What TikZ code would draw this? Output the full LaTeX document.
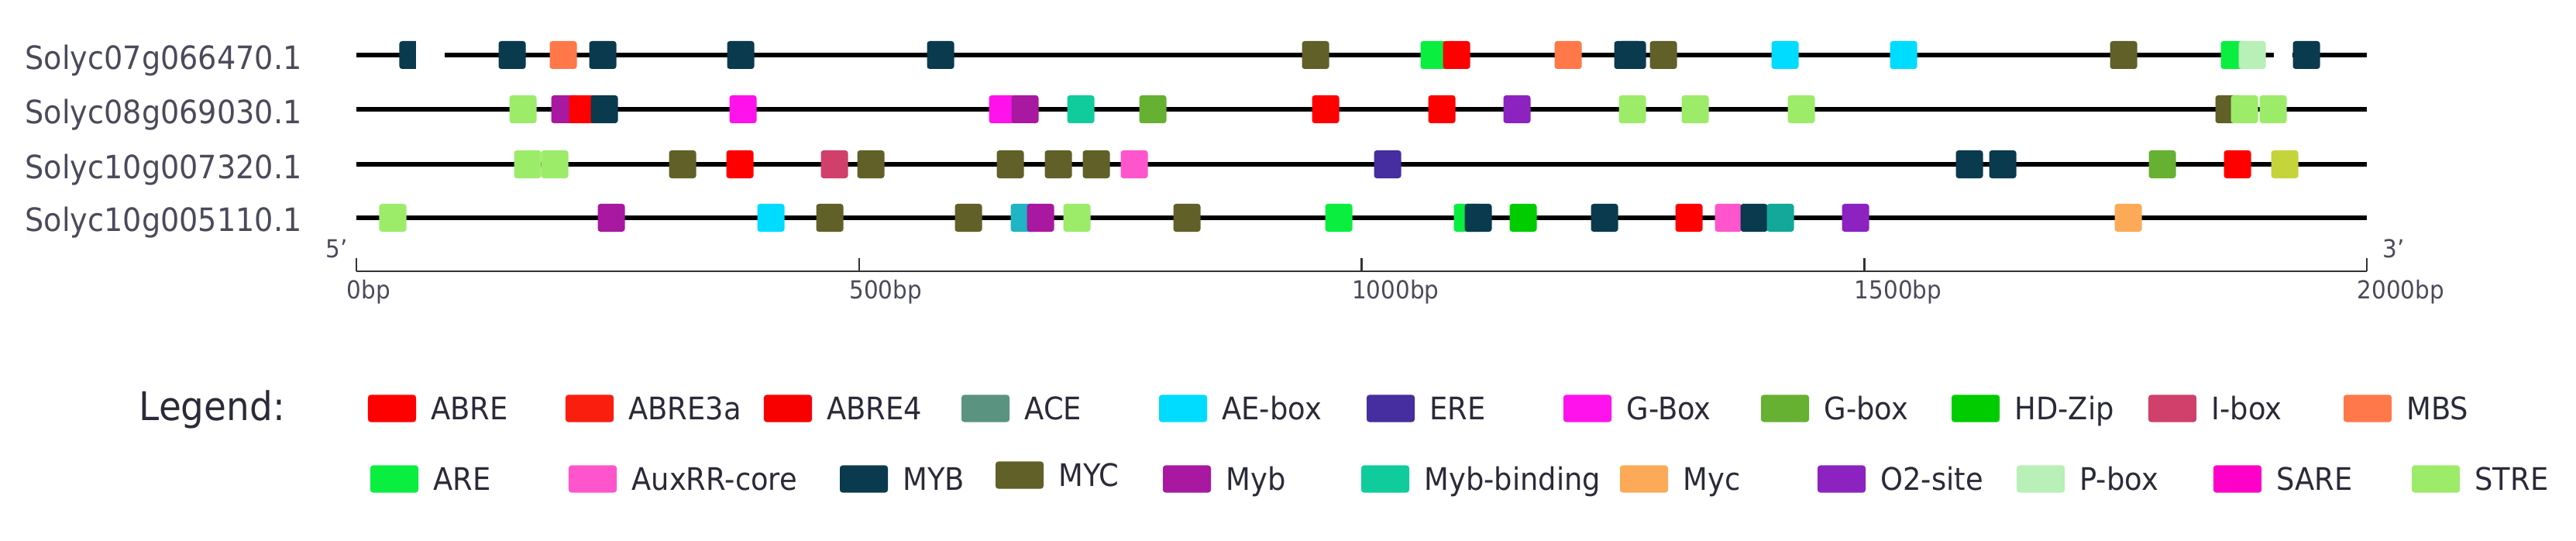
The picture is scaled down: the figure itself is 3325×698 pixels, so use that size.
\documentclass[tikz,border=0pt]{standalone}
\usepackage{fontspec}
\setmainfont{DejaVu Sans}[FakeStretch=0.92]
\usetikzlibrary{positioning}

\definecolor{cABRE}{HTML}{FF0000}
\definecolor{cABREa}{HTML}{FA1E0E}
\definecolor{cABREf}{HTML}{F80000}
\definecolor{cACE}{HTML}{5A9480}
\definecolor{cAEbox}{HTML}{00DCFF}
\definecolor{cERE}{HTML}{462DA0}
\definecolor{cGBox}{HTML}{FF12EC}
\definecolor{cGbox}{HTML}{66B032}
\definecolor{cHDZip}{HTML}{00CC00}
\definecolor{cIbox}{HTML}{D0406A}
\definecolor{cMBS}{HTML}{FF784A}
\definecolor{cARE}{HTML}{0AEE40}
\definecolor{cAuxRR}{HTML}{FF55CC}
\definecolor{cMYB}{HTML}{0A3A4E}
\definecolor{cMYC}{HTML}{606028}
\definecolor{cMyb}{HTML}{A818A0}
\definecolor{cMybbind}{HTML}{10CC9C}
\definecolor{cMyc}{HTML}{FCAA58}
\definecolor{cOtwo}{HTML}{8C22C0}
\definecolor{cPbox}{HTML}{B8F0B8}
\definecolor{cSARE}{HTML}{FF00C8}
\definecolor{cSTRE}{HTML}{9CEC6A}
\definecolor{cYG}{HTML}{C5D43A}
\definecolor{cTealA}{HTML}{20B4C4}
\definecolor{cTealB}{HTML}{12A89A}
\definecolor{namegrey}{HTML}{4A4A5A}
\definecolor{keygrey}{HTML}{2A2A38}

\begin{document}
\begin{tikzpicture}[x=0.01cm, y=-0.01cm,
    dna/.style={line width=1.8pt, black},
    axis/.style={line width=0.7pt, black!80},
    motif/.style={rectangle, inner sep=0pt, minimum width=0.35cm, minimum height=0.36cm, rounded corners=1pt},
    key/.style={rectangle, inner sep=0pt, minimum width=0.62cm, minimum height=0.35cm, rounded corners=1pt},
    keytext/.style={inner sep=0pt, text height=0.29cm, text depth=0pt, text=keygrey, font=\fontsize{11.4}{13}\selectfont},
    gene/.style={inner sep=0pt, anchor=base west, text=namegrey, font=\fontsize{11.8}{14}\selectfont},
    bp/.style={inner sep=0pt, anchor=base west, text=namegrey, font=\fontsize{9.1}{11}\selectfont}]

\useasboundingbox (0,0) rectangle (3325,698);

% gene names
\node[gene] (g1) at (32, 90) {Solyc07g066470.1};
\node[gene] (g2) at (32, 160) {Solyc08g069030.1};
\node[gene] (g3) at (32, 231) {Solyc10g007320.1};
\node[gene] (g4) at (32, 299) {Solyc10g005110.1};

% promoter lines
\coordinate (s1) at (460, 71);  \coordinate (e1) at (3055, 71);
\coordinate (s2) at (460, 141); \coordinate (e2) at (3055, 141);
\coordinate (s3) at (460, 212); \coordinate (e3) at (3055, 212);
\coordinate (s4) at (460, 281); \coordinate (e4) at (3055, 281);
\draw[dna] (s1) -- (e1);
\draw[dna] (s2) -- (e2);
\draw[dna] (s3) -- (e3);
\draw[dna] (s4) -- (e4);

% motifs
\foreach \x/\c in {533/cMYB, 661/cMYB, 727/cMBS, 778/cMYB, 956/cMYB, 1214/cMYB, 1698/cMYC,
                   1851/cARE, 1880/cABRE, 2024/cMBS, 2101/cMYB, 2107/cMYB, 2147/cMYC,
                   2304/cAEbox, 2457/cAEbox, 2741/cMYC, 2884/cARE, 2907/cPbox, 2977/cMYB}
    \node[motif, fill=\c] (a\x) at (\x, 71) {};
\fill[white] (537, 50) rectangle (574, 92);
\fill[white] (2935, 50) rectangle (2959, 92);

\foreach \x/\c in {675/cSTRE, 729/cMyb, 752/cABRE, 780/cMYB, 959/cGBox, 1294/cGBox, 1323/cMyb,
                   1395/cMybbind, 1488/cGbox, 1711/cABRE, 1861/cABRE, 1958/cOtwo, 2107/cSTRE,
                   2188/cSTRE, 2325/cSTRE, 2877/cMYC, 2897/cSTRE, 2934/cSTRE}
    \node[motif, fill=\c] (b\x) at (\x, 141) {};

\foreach \x/\c in {681/cSTRE, 716/cSTRE, 881/cMYC, 955/cABRE, 1077/cIbox, 1124/cMYC, 1304/cMYC,
                   1366/cMYC, 1415/cMYC, 1464/cAuxRR, 1791/cERE, 2542/cMYB, 2585/cMYB,
                   2791/cGbox, 2888/cABRE, 2949/cYG}
    \node[motif, fill=\c] (c\x) at (\x, 212) {};

\foreach \x/\c in {507/cSTRE, 789/cMyb, 995/cAEbox, 1071/cMYC, 1250/cMYC, 1322/cTealA, 1343/cMyb,
                   1390/cSTRE, 1532/cMYC, 1728/cARE, 1894/cARE, 1908/cMYB, 1966/cHDZip,
                   2071/cMYB, 2180/cABRE, 2231/cAuxRR, 2264/cMYB, 2298/cTealB, 2395/cOtwo, 2747/cMyc}
    \node[motif, fill=\c] (d\x) at (\x, 281) {};

% scale
\draw[axis] (460, 350) coordinate (t0) -- (3055, 350) coordinate (tend);
\foreach \b in {0, 500, 1000, 1500, 2000} {
    \coordinate (t\b) at (460+\b*1.2975, 350);
    \draw[axis] (t\b) -- ++(0, -17);
    \node[bp] (l\b) at ([xshift=-0.13cm, yshift=-0.35cm]t\b) {\b bp};
}
\node[bp] (five) at (420, 333) {5'};
\node[bp] (three) at (3075, 333) {3'};

% legend
\node[inner sep=0pt, anchor=base west, text=keygrey, font=\fontsize{14.5}{17}\selectfont] (leg) at (179, 543) {Legend:};
\foreach \x/\y/\c/\t in {475/527/cABRE/ABRE, 730/527/cABREa/ABRE3a, 986/527/cABREf/ABRE4,
                         1241/527/cACE/ACE, 1496/527/cAEbox/AE-box, 1764/527/cERE/ERE,
                         2018/527/cGBox/G-Box, 2273/527/cGbox/G-box, 2519/527/cHDZip/HD-Zip,
                         2773/527/cIbox/I-box, 3025/527/cMBS/MBS,
                         478/618/cARE/ARE, 734/618/cAuxRR/AuxRR-core, 1084/618/cMYB/MYB,
                         1285/613/cMYC/MYC, 1501/618/cMyb/Myb, 1757/618/cMybbind/Myb-binding,
                         2091/618/cMyc/Myc, 2346/618/cOtwo/O2-site, 2603/618/cPbox/P-box,
                         2857/618/cSARE/SARE, 3113/618/cSTRE/STRE} {
    \node[key, fill=\c] (k\x) at (\x+31, \y) {};
    \node[keytext, right=0.18cm of k\x] (n\x) {\t};
}
\end{tikzpicture}
\end{document}
